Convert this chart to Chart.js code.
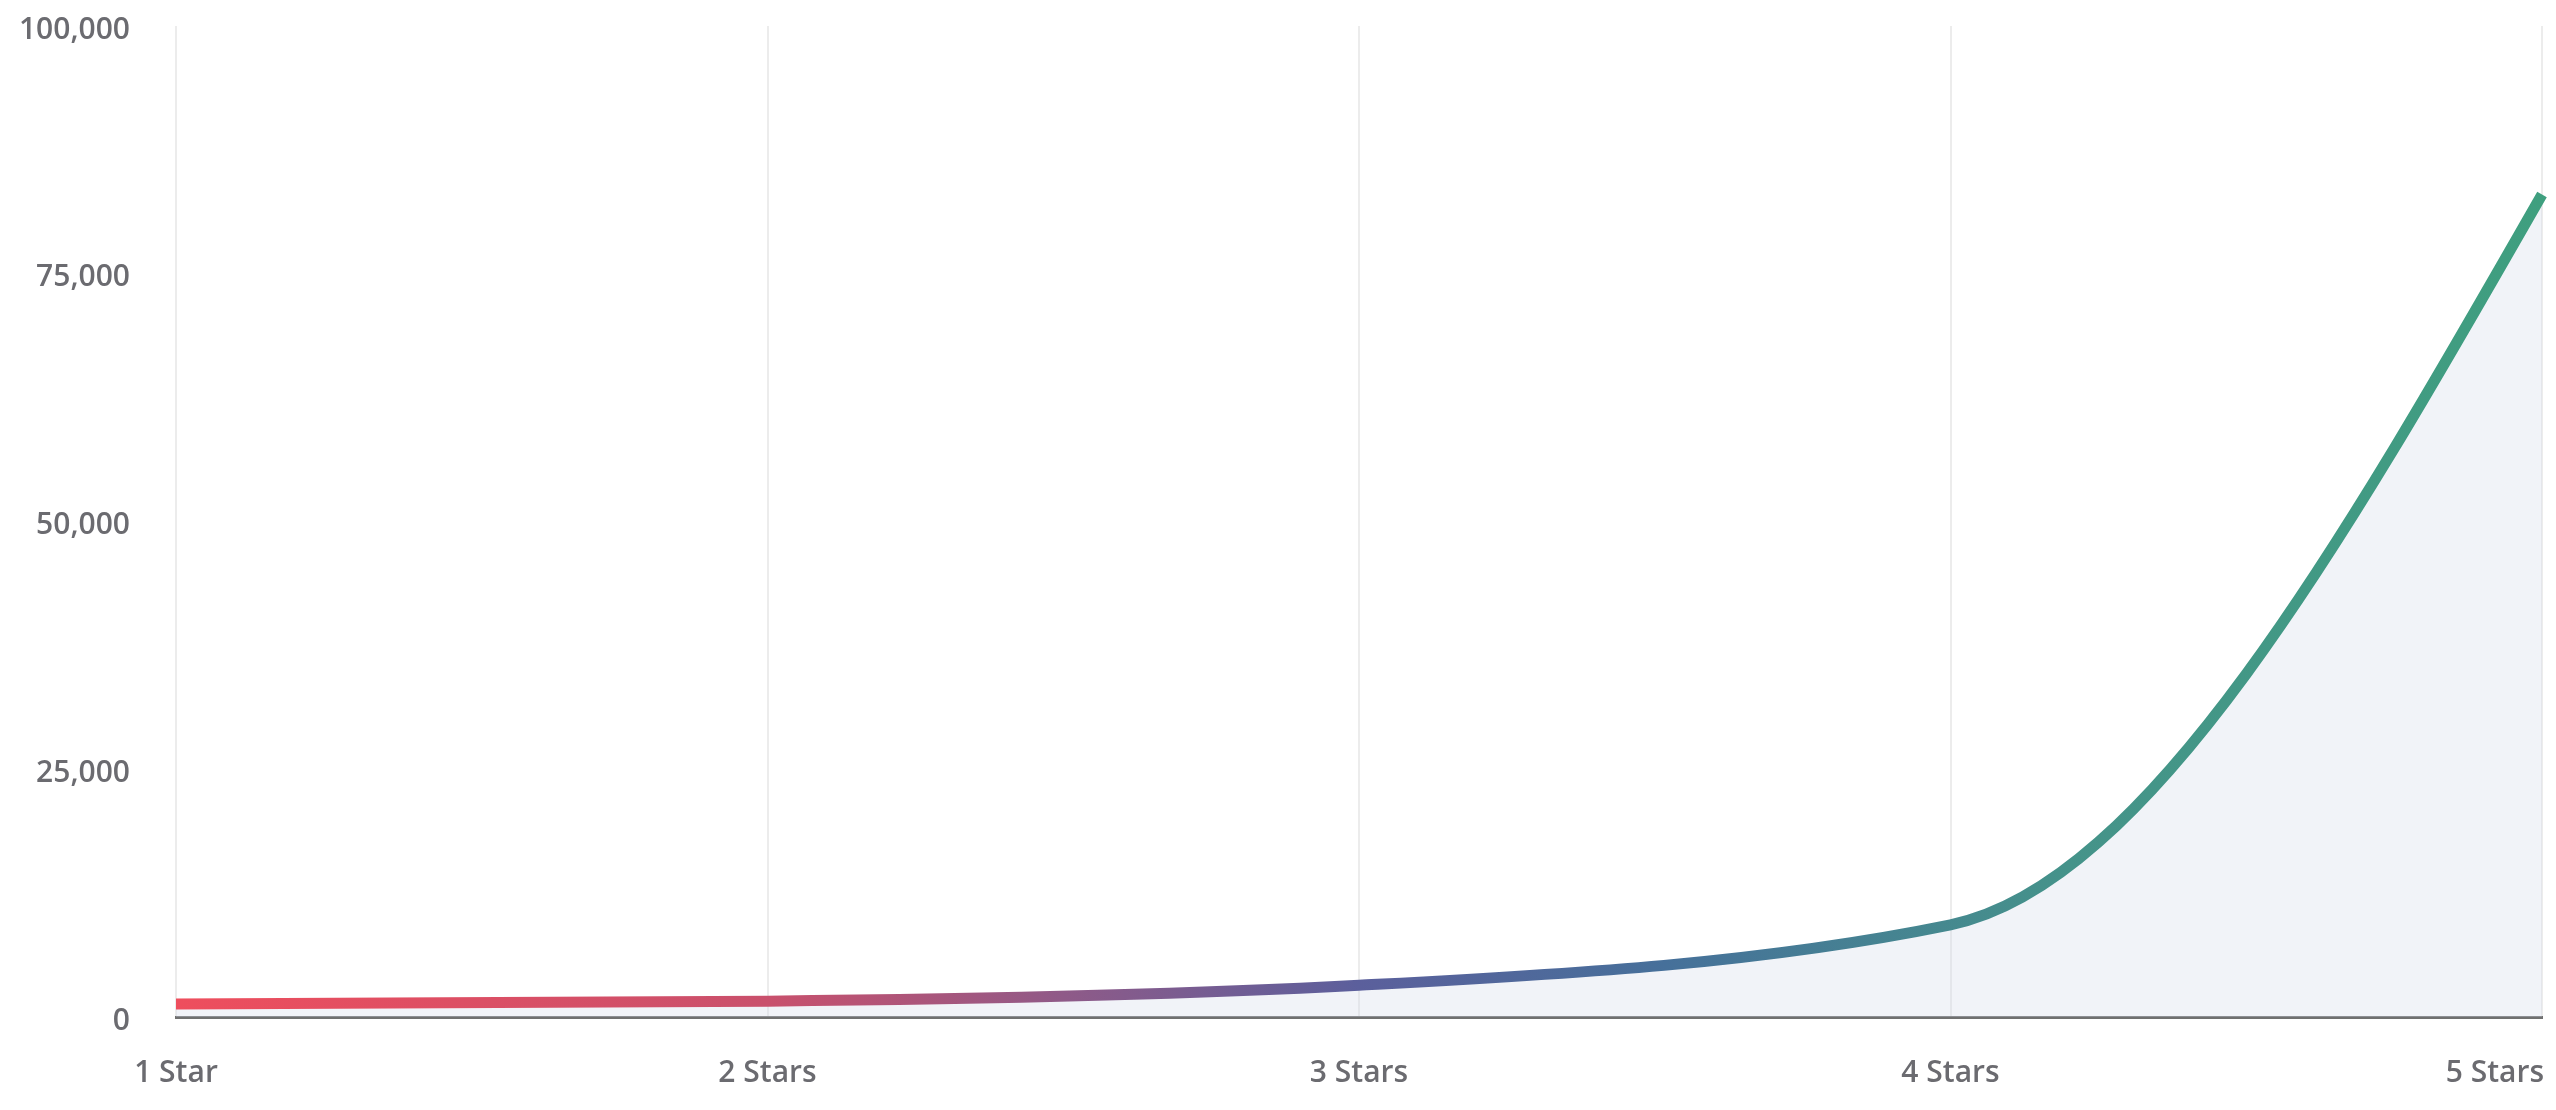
<!DOCTYPE html>
<html>
<head>
<meta charset="utf-8">
<script src="https://cdn.jsdelivr.net/npm/chart.js@4/dist/chart.umd.min.js"></script>
<style>
  html, body { margin: 0; padding: 0; background: #fff; }
  #wrap { width: 2556px; height: 1110px; position: relative; }
</style>
</head>
<body>
<div id="wrap"><canvas id="myChart"></canvas></div>
<script>
let labels = ["1 Star", "2 Stars", "3 Stars", "4 Stars", "5 Stars"];
let reviews = [1300, 1600, 3200, 9300, 83000];
let yTicks = [0, 25000, 50000, 75000, 100000];

let textColor = "#6b6b70";
let font = { family: "'Open Sans'", size: 30, weight: "600" };

// red -> purple -> blue -> green along the x axis
let gradientStops = [
  [0, "#ee4e5d"],
  [0.25, "#c9506c"],
  [0.375, "#8f5a88"],
  [0.5, "#5b5f9c"],
  [0.63, "#46709a"],
  [0.8, "#45938a"],
  [1, "#3f9f7f"],
];

function lineGradient(context) {
  let { ctx, chartArea } = context.chart;
  if (!chartArea) return gradientStops[0][1];
  let g = ctx.createLinearGradient(chartArea.left, 0, chartArea.right, 0);
  gradientStops.forEach(([pos, c]) => g.addColorStop(pos, c));
  return g;
}

// smoother monotone curve (Steffen-style tangents) than chart.js's default
let sign = (v) => (v < 0 ? -1 : v > 0 ? 1 : 0);
let smoothCurvePlugin = {
  id: "smoothCurve",
  afterDatasetsUpdate(chart) {
    let meta = chart.getDatasetMeta(0);
    let line = meta.dataset;
    line.updateControlPoints(chart.chartArea, "x");
    let pts = meta.data;
    let n = pts.length;
    let h = [], s = [], t = [];
    for (let i = 0; i < n - 1; i++) {
      h[i] = pts[i + 1].x - pts[i].x;
      s[i] = (pts[i + 1].y - pts[i].y) / h[i];
    }
    for (let i = 1; i < n - 1; i++) {
      let p = (s[i - 1] * h[i] + s[i] * h[i - 1]) / (h[i - 1] + h[i]);
      t[i] = (sign(s[i - 1]) + sign(s[i])) *
        Math.min(Math.abs(s[i - 1]), Math.abs(s[i]), 0.5 * Math.abs(p)) || 0;
    }
    t[0] = (3 * s[0] - t[1]) / 2;
    t[n - 1] = (3 * s[n - 2] - t[n - 2]) / 2;
    for (let i = 0; i < n; i++) {
      let pt = pts[i];
      let hp = i > 0 ? h[i - 1] / 3 : 0;
      let hn = i < n - 1 ? h[i] / 3 : 0;
      pt.cp1x = pt.x - hp;
      pt.cp1y = pt.y - t[i] * hp;
      pt.cp2x = pt.x + hn;
      pt.cp2y = pt.y + t[i] * hn;
    }
  },
};

// last x label sits right-aligned against the edge
let lastLabelPlugin = {
  id: "lastLabel",
  afterDraw(chart) {
    let x = chart.scales.x;
    let ctx = chart.ctx;
    let i = labels.length - 1;
    ctx.save();
    ctx.font = `${font.weight} ${font.size}px ${font.family}`;
    ctx.fillStyle = textColor;
    ctx.textAlign = "right";
    ctx.textBaseline = "middle";
    ctx.fillText(labels[i], x.getPixelForTick(i) + 2, 1073);
    ctx.restore();
  },
};

let ctx = document.getElementById("myChart").getContext("2d");
let myChart = new Chart(ctx, {
  type: "line",
  data: {
    labels: labels,
    datasets: [
      {
        data: reviews,
        borderColor: lineGradient,
        borderWidth: 11,
        pointRadius: 0,
        cubicInterpolationMode: "monotone",
        fill: "origin",
        backgroundColor: "rgba(210,215,232,0.3)",
      },
    ],
  },
  options: {
    responsive: true,
    maintainAspectRatio: false,
    animation: false,
    layout: { padding: { top: 26, right: 14, left: 0, bottom: 0 } },
    plugins: {
      legend: { display: false },
      tooltip: { enabled: false },
    },
    scales: {
      x: {
        offset: false,
        grid: { color: "#ececec", lineWidth: 2, drawTicks: false },
        border: { color: "#707070", width: 3 },
        ticks: {
          color: (c) => (c.index === labels.length - 1 ? "rgba(0,0,0,0)" : textColor),
          font: font,
          padding: 38,
          maxRotation: 0,
          autoSkip: false,
        },
        afterFit: (s) => {
          s.height = 93;
          s.paddingRight = 0;
        },
      },
      y: {
        min: 0,
        max: 100000,
        afterBuildTicks: (s) => {
          s.ticks = yTicks.map((v) => ({ value: v }));
        },
        grid: { display: false, drawTicks: false },
        border: { display: false },
        ticks: {
          color: textColor,
          font: font,
          padding: 46,
          labelOffset: 4,
          callback: (v) => v.toLocaleString("en-US"),
        },
        afterFit: (s) => {
          s.width = 176;
          s.paddingTop = 0;
          s.paddingBottom = 0;
        },
      },
    },
  },
  plugins: [smoothCurvePlugin, lastLabelPlugin],
});
</script>
</body>
</html>
